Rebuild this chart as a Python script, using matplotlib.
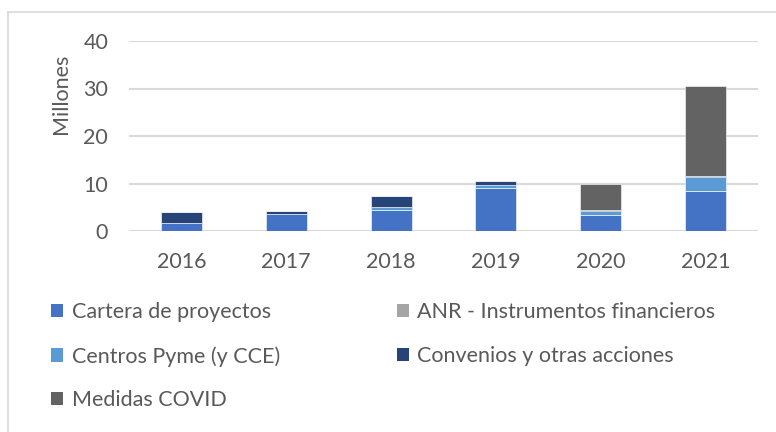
import numpy as np
import matplotlib.pyplot as plt
from matplotlib.lines import Line2D
from matplotlib.patches import Patch

plt.rcParams['font.family'] = ['Lato', 'DejaVu Sans']

years = ["2016", "2017", "2018", "2019", "2020", "2021"]
cartera = [1.6, 3.5, 4.5, 9.15, 3.4, 8.5]
anr = [0.0, 0.0, 0.0, 0.0, 0.0, 0.0]
centros = [0.0, 0.0, 0.5, 0.5, 0.8, 2.9]
convenios = [2.4, 0.75, 2.3, 0.85, 0.3, 0.2]
covid = [0.0, 0.0, 0.0, 0.0, 5.4, 19.0]

series = [
    ("Cartera de proyectos", cartera, "#4472C4"),
    ("ANR - Instrumentos financieros", anr, "#A5A5A5"),
    ("Centros Pyme (y CCE)", centros, "#5B9BD5"),
    ("Convenios y otras acciones", convenios, "#264478"),
    ("Medidas COVID", covid, "#636363"),
]

txt = "#595959"
fs = 15.5

fig = plt.figure(figsize=(7.76, 4.32), dpi=100)
ax = fig.add_axes([129/776, 1 - 231/432, 629/776, 190/432])

x = np.arange(len(years))
bottom = np.zeros(len(years))
handles = {}
for name, vals, col in series:
    ax.bar(x, vals, 0.39, bottom=bottom, color=col, edgecolor="white", linewidth=0.4, zorder=3)
    bottom += np.array(vals)
    handles[name] = Patch(facecolor=col, edgecolor="none")

ax.set_xlim(-0.5, len(years) - 0.5)
ax.set_ylim(0, 40)
ax.set_yticks([0, 10, 20, 30, 40])
ax.set_xticks(x)
ax.set_xticklabels(years)
ax.grid(axis="y", color="#D9D9D9", linewidth=1.5, zorder=0)
for s in ax.spines.values():
    s.set_visible(False)
ax.tick_params(length=0, labelsize=fs, colors=txt)
ax.tick_params(axis="x", pad=15)
ax.tick_params(axis="y", pad=15)
ax.set_ylabel("Millones", fontsize=fs, color=txt)
ax.yaxis.set_label_coords(-0.092, 0.72)

order = ["Cartera de proyectos", "Centros Pyme (y CCE)", "Medidas COVID",
         "ANR - Instrumentos financieros", "Convenios y otras acciones"]
fig.legend([handles[n] for n in order], order, ncol=2, loc="upper left",
           bbox_to_anchor=(32/776, 1 - 283/432), frameon=False, fontsize=fs,
           labelcolor=txt, handlelength=0.56, handleheight=0.56, handletextpad=0.4,
           columnspacing=5.4, labelspacing=1.1)

# chart border (light gray)
fig.add_artist(Line2D([8/776, 8/776], [0, 1 - 12/432], transform=fig.transFigure, color="#D9D9D9", linewidth=1.2))
fig.add_artist(Line2D([8/776, 1], [1 - 12/432, 1 - 12/432], transform=fig.transFigure, color="#D9D9D9", linewidth=1.2))

fig.savefig("out.png", dpi=100)
